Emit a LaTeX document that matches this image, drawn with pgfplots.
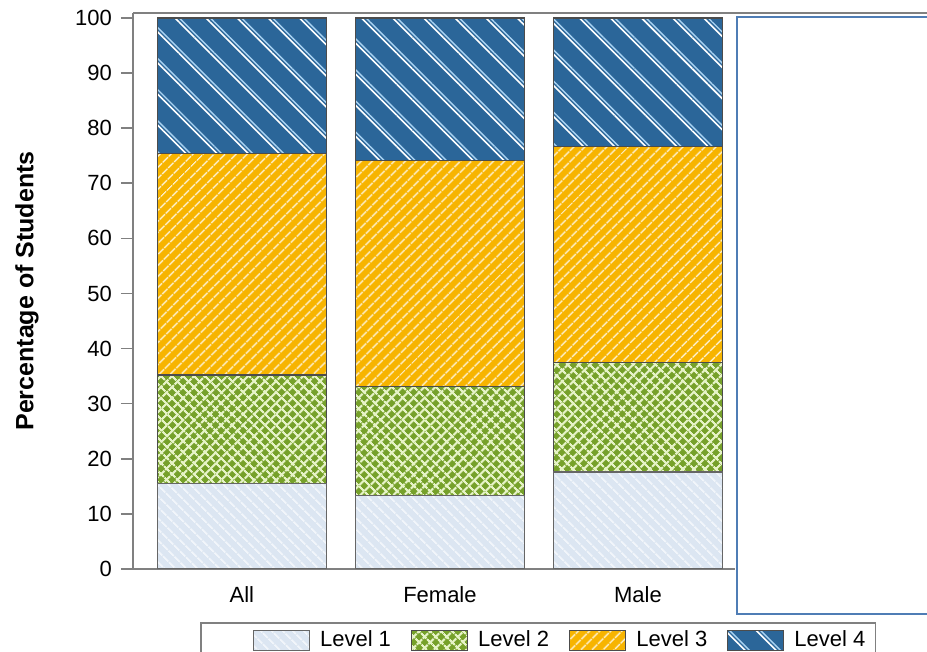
\documentclass[border=0pt]{standalone}
\usepackage{fontspec}
\setmainfont{Liberation Sans}
\usepackage{pgfplots}
\pgfplotsset{compat=1.18}
\usetikzlibrary{patterns.meta}
\definecolor{lvlone}{HTML}{DCE6F2}
\definecolor{lvltwo}{HTML}{76A12A}
\definecolor{lvltwol}{HTML}{E6F3C6}
\definecolor{lvlthree}{HTML}{F7B400}
\definecolor{lvlfour}{HTML}{2B6699}
\definecolor{lvlfourl}{HTML}{A9D3F2}
\definecolor{axgray}{HTML}{808080}
\definecolor{boxblue}{HTML}{4F7DB5}
\begin{document}
\begin{tikzpicture}[x=0.5pt,y=0.5pt]
\path[use as bounding box] (0,0) rectangle (927,652);
\begin{axis}[
  at={(66.5pt,41.5pt)}, anchor=south west,
  width=301pt, height=278pt, scale only axis,
  xmin=-0.55, xmax=2.49, ymin=0, ymax=100.9,
  ybar stacked, bar width=84.5pt,
  axis x line=bottom, axis y line=left,
  axis line style={-, axgray, line width=1pt},
  xtick={0,1,2}, xticklabels={All,Female,Male},
  xtick style={draw=none},
  ytick={0,10,...,100},
  tick align=outside, major tick length=6pt,
  ytick style={axgray, line width=0.8pt},
  tick label style={font=\fontsize{11}{13}\selectfont},
  xticklabel style={yshift=1pt},
  yticklabel style={xshift=-1pt},
  /pgf/number format/assume math mode=true,
  ylabel={Percentage of Students},
  ylabel style={font=\bfseries\fontsize{12.5}{14}\selectfont, at={(axis description cs:-0.176,0.5)}, anchor=center},
  legend style={at={(axis description cs:0.673,-0.0953)}, anchor=north, legend columns=5, draw=axgray, line width=0.8pt,
    font=\fontsize{11}{13}\selectfont, inner ysep=2pt,
    /tikz/every odd column/.append style={column sep=3pt},
    /tikz/every even column/.append style={column sep=8pt}},
  legend image code/.code={\draw[#1] (0pt,-5pt) rectangle (28pt,5pt);},
]
\addlegendimage{empty legend}
\addlegendentry{\hspace*{8pt}}
\addplot[draw=black!60, line width=0.6pt, fill=lvlone,
  postaction={pattern={Lines[angle=-45,distance=4pt,line width=0.9pt]}, pattern color=white!60!lvlone}]
  coordinates {(0,15.5) (1,13.3) (2,17.6)};
\addlegendentry{Level 1}
\addplot[draw=black!70, line width=0.6pt, fill=lvltwo,
  postaction={pattern={Lines[angle=45,distance=4pt,line width=1.1pt]}, pattern color=lvltwol},
  postaction={pattern={Lines[angle=-45,distance=4pt,line width=1.1pt]}, pattern color=lvltwol}]
  coordinates {(0,19.7) (1,19.8) (2,19.9)};
\addlegendentry{Level 2}
\addplot[draw=black!70, line width=0.6pt, fill=lvlthree,
  postaction={pattern={Lines[angle=45,distance=4pt,line width=0.7pt]}, pattern color=white!85!lvlthree}]
  coordinates {(0,40.2) (1,41.1) (2,39.2)};
\addlegendentry{Level 3}
\addplot[draw=black!70, line width=0.6pt, fill=lvlfour,
  postaction={pattern={Lines[angle=-45,distance=11pt,line width=0.8pt]}, pattern color=white},
  postaction={pattern={Lines[angle=-45,distance=11pt,xshift=2.2pt,line width=0.7pt]}, pattern color=lvlfourl}]
  coordinates {(0,24.6) (1,25.8) (2,23.3)};
\addlegendentry{Level 4}
\end{axis}
\draw[axgray, line width=1pt] (133,639) -- (940,639);
\draw[boxblue, line width=1.1pt] (737,38) rectangle (945,635);
\end{tikzpicture}
\end{document}
